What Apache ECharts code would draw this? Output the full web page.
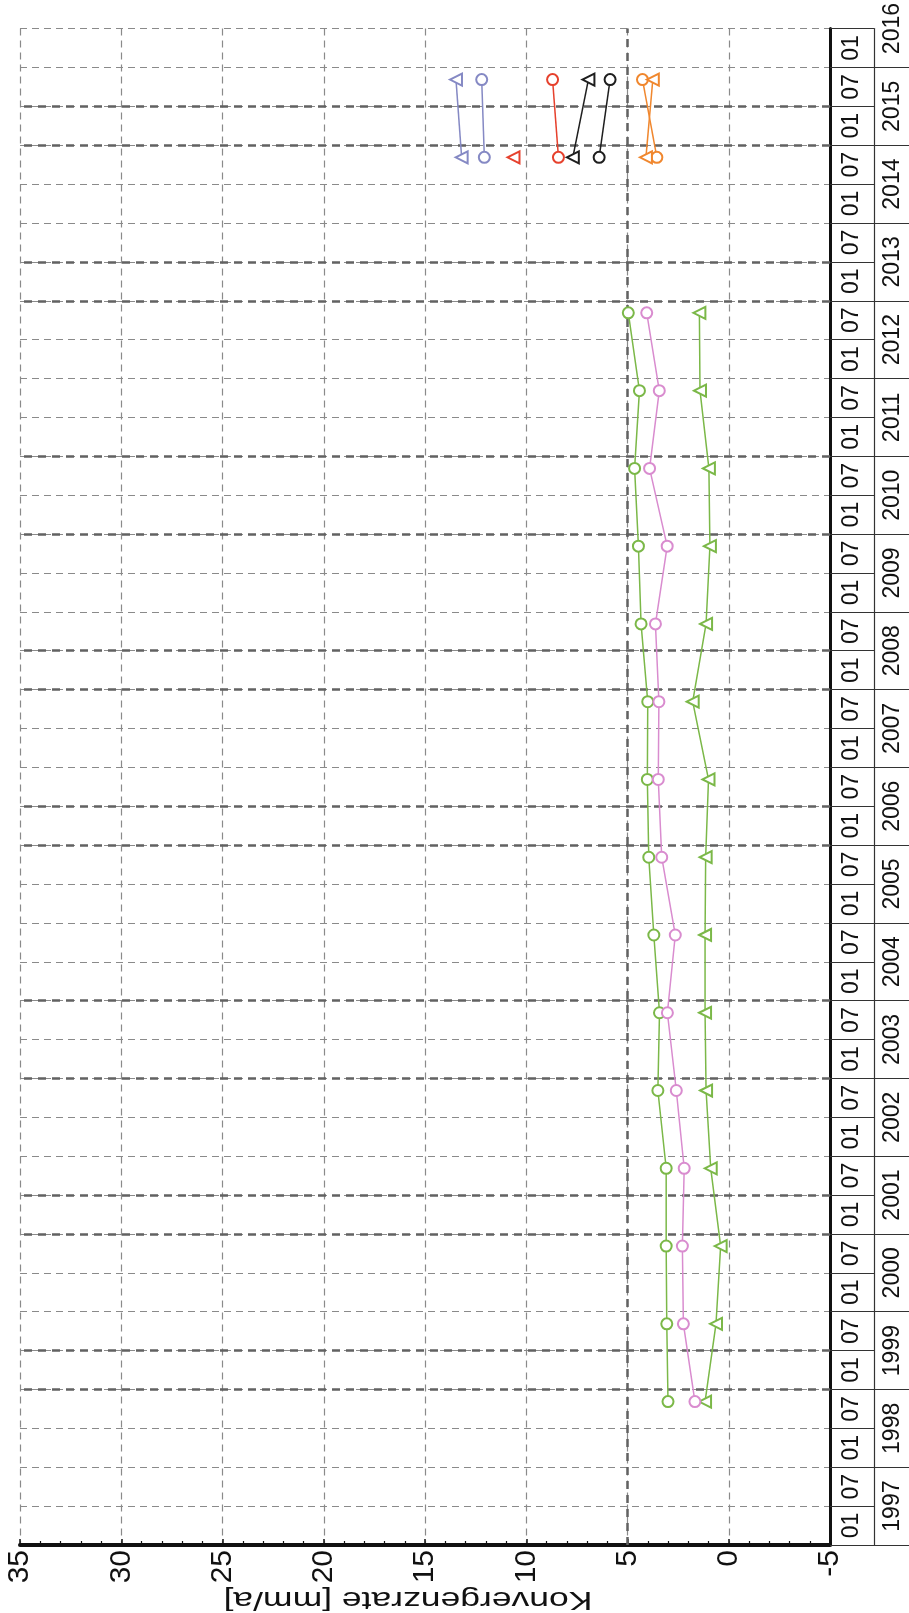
<!DOCTYPE html>
<html><head><meta charset="utf-8">
<script src="https://cdn.jsdelivr.net/npm/echarts@6/dist/echarts.min.js"></script>
<style>html,body{margin:0;padding:0;background:#fff}#c{width:909px;height:1613px}</style>
</head><body><div id="c"></div>
<script>
// ---- data ----
const years = [1997,1998,1999,2000,2001,2002,2003,2004,2005,2006,2007,2008,2009,2010,2011,2012,2013,2014,2015,2016];
const monthLabels = ['01','07'];
const valueTicks = [-5,0,5,10,15,20,25,30,35];
const axisTitle = 'Konvergenzrate [mm/a]';

const datesMain = ['1998-11-05','1999-11-05','2000-11-05','2001-11-05','2002-11-05','2003-11-05','2004-11-05',
  '2005-11-05','2006-11-05','2007-11-05','2008-11-05','2009-11-05','2010-11-05','2011-11-05','2012-11-05'];
const greenCircle   = [3.00,3.06,3.09,3.09,3.50,3.42,3.70,3.95,4.02,4.00,4.33,4.46,4.65,4.41,4.96];
const pinkCircle    = [1.67,2.24,2.29,2.20,2.59,3.03,2.64,3.31,3.48,3.45,3.62,3.04,3.91,3.43,4.05];
const greenTriangle = [1.17,0.63,0.40,0.89,1.12,1.17,1.17,1.14,1.00,1.78,1.12,0.93,0.98,1.42,1.45];

const datesLate = ['2014-11-05','2015-11-05'];
const blueTriangle   = [13.19,13.47];
const blueCircle     = [12.07,12.20];
const redTriangle    = [10.63,null];
const redCircle      = [8.41,8.70];
const blackTriangle  = [7.70,6.93];
const blackCircle    = [6.40,5.86];
const orangeCircle   = [3.55,4.26];
const orangeTriangle = [4.09,3.75];

// half-year gridlines that appear heavier in the reference
const heavyHalfYears = [2015.5,2015.0,2013.5,2013.0,2011.0,2010.0,2008.5,2008.0,2006.5,2006.0,2004.0,2003.0,2001.5,2001.0,1999.5,1999.0];
const heavyValues = [5];

// ---- helpers ----
function toYear(d){const p=d.split('-').map(Number);return p[0]+(p[1]-1)/12+(p[2]-1)/365;}
function mk(name,dates,vals,color,tri){
  const data=[];
  dates.forEach((d,i)=>{ if(vals[i]!=null) data.push([vals[i],toYear(d)]); });
  return {name,type:'line',data,xAxisIndex:0,yAxisIndex:0,z:5,
    symbol:tri?'emptyTriangle':'emptyCircle',symbolSize:tri?12:11,symbolRotate:tri?90:0,
    lineStyle:{color,width:1.5},itemStyle:{color,borderColor:color,borderWidth:1.4},
    emphasis:{disabled:true}};
}
const yMin=years[0], yMax=years[years.length-1]+0.5;
const halfCenters=[]; years.forEach(y=>{halfCenters.push(y+0.25); if(y+0.75<yMax) halfCenters.push(y+0.75);});
const yearCenters=years.map(y=>y+0.5);

const font="'Liberation Sans',Arial,Helvetica,sans-serif";

const chart=echarts.init(document.getElementById('c'),null,{renderer:'canvas'});
chart.setOption({
  animation:false,
  backgroundColor:'#fff',
  grid:{left:20,right:79,top:25,bottom:68,containLabel:false},
  xAxis:[{type:'value',inverse:true,min:valueTicks[0],max:valueTicks[valueTicks.length-1],interval:5,position:'bottom',
    axisLine:{show:true,onZero:false,lineStyle:{color:'#111',width:4}},
    axisTick:{show:true,inside:true,length:6,lineStyle:{color:'#111',width:1.5}},
    minorTick:{show:true,splitNumber:5,length:4,lineStyle:{color:'#111',width:1.2}},
    axisLabel:{rotate:90,margin:5,fontSize:30,color:'#111',fontFamily:font},
    splitLine:{show:true,lineStyle:{color:'#8a8a8a',width:1.2,type:[7,5]}}
  }],
  yAxis:[
    {type:'value',position:'right',offset:0,min:yMin,max:yMax,interval:0.5,
      axisLine:{show:true,onZero:false,lineStyle:{color:'#111',width:3}},
      axisTick:{show:true,inside:false,length:44,lineStyle:{color:'#333',width:1}},
      axisLabel:{customValues:halfCenters,rotate:90,margin:10,fontSize:23,color:'#111',fontFamily:font,
        formatter:v=>{const f=v-Math.floor(v);return f<0.5?monthLabels[0]:monthLabels[1];}},
      splitLine:{show:true,lineStyle:{color:'#8a8a8a',width:1.2,type:[7,5]}}
    },
    {type:'value',position:'right',offset:44,min:yMin,max:yMax,
      axisLine:{show:true,onZero:false,lineStyle:{color:'#333',width:1.2}},
      axisTick:{show:true,inside:false,length:40,customValues:years,lineStyle:{color:'#333',width:1}},
      axisLabel:{customValues:yearCenters,rotate:90,margin:7,fontSize:23,color:'#111',fontFamily:font,
        formatter:v=>String(Math.floor(v))},
      splitLine:{show:false}
    }
  ],
  graphic:[{type:'text',x:408,y:1599,rotation:Math.PI,scaleX:1.42,silent:true,
    style:{text:axisTitle,font:"25px 'Liberation Sans',Arial,sans-serif",fill:'#111',align:'center',verticalAlign:'middle'}}],
  series:[
    {name:'grid-heavy',type:'line',data:[],xAxisIndex:0,yAxisIndex:0,z:1,silent:true,
      markLine:{silent:true,symbol:['none','none'],label:{show:false},animation:false,
        lineStyle:{color:'#626262',width:2.5,type:[8,6]},
        data:heavyHalfYears.map(t=>({yAxis:t})).concat(heavyValues.map(v=>({xAxis:v})))}},
    mk('greenCircle',datesMain,greenCircle,'#7bb848',false),
    mk('greenTriangle',datesMain,greenTriangle,'#7bb848',true),
    mk('pinkCircle',datesMain,pinkCircle,'#d98ccf',false),
    mk('blueTriangle',datesLate,blueTriangle,'#8589c4',true),
    mk('blueCircle',datesLate,blueCircle,'#8589c4',false),
    mk('redTriangle',datesLate,redTriangle,'#e6412d',true),
    mk('redCircle',datesLate,redCircle,'#e6412d',false),
    mk('blackTriangle',datesLate,blackTriangle,'#1e1e1e',true),
    mk('blackCircle',datesLate,blackCircle,'#1e1e1e',false),
    mk('orangeCircle',datesLate,orangeCircle,'#f0872e',false),
    mk('orangeTriangle',datesLate,orangeTriangle,'#f0872e',true)
  ]
});
</script></body></html>
